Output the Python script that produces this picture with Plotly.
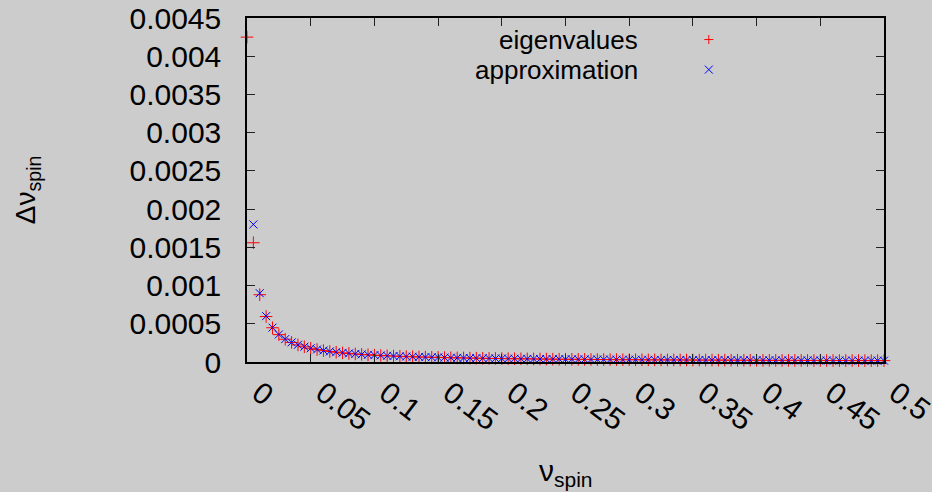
import plotly.graph_objects as go

# Spin frequency grid (nu_spin)
nu_spin = [
    0.000, 0.005, 0.010, 0.015, 0.020, 0.025, 0.030, 0.035, 0.040, 0.045,
    0.050, 0.055, 0.060, 0.065, 0.070, 0.075, 0.080, 0.085, 0.090, 0.095,
    0.100, 0.105, 0.110, 0.115, 0.120, 0.125, 0.130, 0.135, 0.140, 0.145,
    0.150, 0.155, 0.160, 0.165, 0.170, 0.175, 0.180, 0.185, 0.190, 0.195,
    0.200, 0.205, 0.210, 0.215, 0.220, 0.225, 0.230, 0.235, 0.240, 0.245,
    0.250, 0.255, 0.260, 0.265, 0.270, 0.275, 0.280, 0.285, 0.290, 0.295,
    0.300, 0.305, 0.310, 0.315, 0.320, 0.325, 0.330, 0.335, 0.340, 0.345,
    0.350, 0.355, 0.360, 0.365, 0.370, 0.375, 0.380, 0.385, 0.390, 0.395,
    0.400, 0.405, 0.410, 0.415, 0.420, 0.425, 0.430, 0.435, 0.440, 0.445,
    0.450, 0.455, 0.460, 0.465, 0.470, 0.475, 0.480, 0.485, 0.490, 0.495,
    0.500,
]

# Spacing of the eigenvalues, in units of 1e-6 (one per grid point)
eigen_spacing_u = [
    4250, 1560, 880, 595, 448, 358, 298, 256, 224, 199,
    179, 163, 149, 138, 128, 119, 112, 105, 99, 94,
    89, 85, 81, 78, 74, 71, 69, 66, 64, 62,
    60, 58, 56, 54, 53, 51, 50, 48, 47, 46,
    45, 44, 43, 42, 41, 40, 39, 38, 37, 36.5,
    36, 35, 34.5, 34, 33, 32.5, 32, 31.5, 31, 30.5,
    30, 29.5, 29, 28.5, 28, 27.5, 27, 26.8, 26.4, 26,
    25.6, 25.3, 25, 24.6, 24.3, 24, 23.6, 23.3, 23, 22.8,
    22.5, 22.2, 22, 21.7, 21.4, 21.2, 21, 20.7, 20.5, 20.3,
    20, 19.8, 19.6, 19.4, 19.2, 19, 18.8, 18.6, 18.4, 18.2,
    18,
]

# Approximate spacing, in units of 1e-6 (starts at the second grid point)
approx_spacing_u = [
    1800, 900, 600, 450, 360, 300, 257, 225, 200, 180,
    164, 150, 138, 129, 120, 113, 106, 100, 95, 90,
    86, 82, 78, 75, 72, 69, 67, 64, 62, 60,
    58, 56, 55, 53, 51, 50, 49, 47, 46, 45,
    44, 43, 42, 41, 40, 39, 38, 37.5, 37, 36,
    35.3, 34.6, 34, 33.3, 32.7, 32.1, 31.6, 31, 30.5, 30,
    29.5, 29, 28.6, 28.1, 27.7, 27.3, 26.9, 26.5, 26.1, 25.7,
    25.4, 25, 24.7, 24.3, 24, 23.7, 23.4, 23.1, 22.8, 22.5,
    22.2, 22, 21.7, 21.4, 21.2, 20.9, 20.7, 20.5, 20.2, 20,
    19.8, 19.6, 19.4, 19.1, 18.9, 18.8, 18.6, 18.4, 18.2, 18,
]

x_tick_vals = [0, 0.05, 0.1, 0.15, 0.2, 0.25, 0.3, 0.35, 0.4, 0.45, 0.5]
x_tick_text = ["0", "0.05", "0.1", "0.15", "0.2", "0.25", "0.3", "0.35", "0.4", "0.45", "0.5"]
y_tick_vals = [0, 0.0005, 0.001, 0.0015, 0.002, 0.0025, 0.003, 0.0035, 0.004, 0.0045]
y_tick_text = ["0", "0.0005", "0.001", "0.0015", "0.002", "0.0025", "0.003", "0.0035", "0.004", "0.0045"]

series_names = ["eigenvalues", "approximation"]

eigen_spacing = [v * 1e-6 for v in eigen_spacing_u]
approx_spacing = [v * 1e-6 for v in approx_spacing_u]

FONT = "Liberation Sans, Arial, sans-serif"
BG = "#cccccc"
RED = "#ff0000"
BLUE = "#0000ff"

fig = go.Figure()
fig.add_trace(go.Scatter(
    x=nu_spin, y=eigen_spacing, mode="markers", name=series_names[0],
    marker=dict(symbol="cross-thin-open", size=9, line=dict(color=RED, width=1), color=RED),
    cliponaxis=False, showlegend=False,
))
fig.add_trace(go.Scatter(
    x=nu_spin[1:], y=approx_spacing, mode="markers", name=series_names[1],
    marker=dict(symbol="x-thin-open", size=8, line=dict(color=BLUE, width=1), color=BLUE),
    cliponaxis=False, showlegend=False,
))

axis_common = dict(
    showline=True, linecolor="black", linewidth=1.5, mirror="ticks",
    ticks="inside", ticklen=8, tickwidth=1, tickcolor="#222222",
    showgrid=False, zeroline=False, automargin=False,
    ticklabeloverflow="allow",
    tickfont=dict(family=FONT, size=30, color="black"),
)

fig.update_xaxes(
    range=[0, 0.5], tickmode="array", tickvals=x_tick_vals, ticktext=x_tick_text,
    tickangle=37, ticklabelstandoff=0, ticklabelshift=12, **axis_common,
)
fig.update_yaxes(
    range=[0, 0.0045], tickmode="array", tickvals=y_tick_vals, ticktext=y_tick_text,
    ticklabelstandoff=18, **axis_common,
)

# Axis titles
annotations = [
    dict(text="ν<sub>spin</sub>", xref="paper", yref="paper", x=0.5004, y=-0.32,
         xanchor="center", yanchor="middle", showarrow=False,
         font=dict(family=FONT, size=30, color="black")),
    dict(text="Δν<sub>spin</sub>", xref="paper", yref="paper", x=-0.345, y=0.50,
         xanchor="center", yanchor="middle", showarrow=False, textangle=-90,
         font=dict(family=FONT, size=28, color="black")),
]

# Key: right-justified labels followed by the point sample
key_x_text = 0.6167
key_x_mark = 0.725
key_rows = [0.9374, 0.850]
for name, ky in zip(series_names, key_rows):
    annotations.append(dict(
        text=name, xref="paper", yref="paper", x=key_x_text, y=ky,
        xanchor="right", yanchor="middle", showarrow=False,
        font=dict(family=FONT, size=26, color="black"),
    ))

def mark_line(ky, x0, y0, x1, y1, color):
    return dict(type="line", xref="paper", yref="paper",
                xsizemode="pixel", ysizemode="pixel",
                xanchor=key_x_mark, yanchor=ky,
                x0=x0, y0=y0, x1=x1, y1=y1,
                line=dict(color=color, width=1))

shapes = [
    mark_line(key_rows[0], -4.5, 0, 4.5, 0, RED),
    mark_line(key_rows[0], 0, -4.5, 0, 4.5, RED),
    mark_line(key_rows[1], -4, -4, 4, 4, BLUE),
    mark_line(key_rows[1], -4, 4, 4, -4, BLUE),
]

fig.update_layout(
    width=932, height=492,
    margin=dict(l=247, r=48, t=18, b=130, pad=0),
    paper_bgcolor=BG, plot_bgcolor=BG,
    annotations=annotations, shapes=shapes,
    showlegend=False,
)

fig.write_html("out.html")
